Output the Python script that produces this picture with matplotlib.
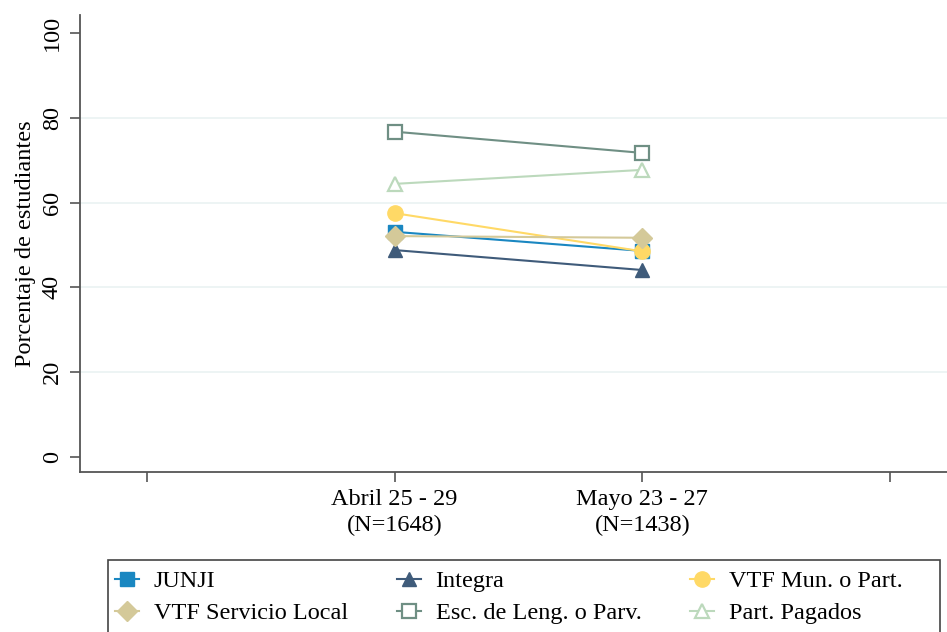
import matplotlib.pyplot as plt
from matplotlib.patches import Rectangle

plt.rcParams['font.family'] = ['Liberation Serif', 'DejaVu Serif']

# periods (x positions 1 and 2; 0 and 3 are empty ticks)
periodos = ['Abril 25 - 29\n(N=1648)', 'Mayo 23 - 27\n(N=1438)']
x_pos = [1, 2]

series = ['JUNJI', 'Integra', 'VTF Mun. o Part.',
          'VTF Servicio Local', 'Esc. de Leng. o Parv.', 'Part. Pagados']
junji = [53.1, 48.6]
integra = [48.8, 44.1]
vtf_mun = [57.5, 48.5]
vtf_local = [52.1, 51.7]
esc_leng = [76.7, 71.7]
part_pagados = [64.4, 67.7]

valores = [junji, integra, vtf_mun, vtf_local, esc_leng, part_pagados]
colores = ['#1a87c1', '#3f5b7a', '#ffd966', '#d4c999', '#6f8f84', '#bcd9bc']
marcadores = ['s', '^', 'o', 'D', 's', '^']
rellenos = [True, True, True, True, False, False]
tamanos = [10, 10, 11, 10.5, 10, 10]

fig = plt.figure(figsize=(9.47, 6.32), dpi=100)
ax = fig.add_axes([80 / 947, 1 - 472 / 632, 1 - 80 / 947, (472 - 15) / 632])

# light horizontal grid
for g in [20, 40, 60, 80]:
    ax.axhline(g, color='#eaf2f2', lw=1.2, zorder=0)

handles = []
for nombre, v, c, m, f, s in zip(series, valores, colores, marcadores, rellenos, tamanos):
    h, = ax.plot(x_pos, v, color=c, lw=1.5, marker=m, markersize=s,
                 markerfacecolor=c if f else 'white', markeredgecolor=c,
                 markeredgewidth=1.6 if not f else 1.0, label=nombre, zorder=3)
    handles.append(h)

ax.set_xlim(-0.27, 3.23)
ax.set_ylim(-3.5, 104.2)
ax.set_xticks([0, 1, 2, 3])
ax.set_xticklabels([''] + periodos + [''], fontsize=17.5, linespacing=1.25)
ax.set_yticks([0, 20, 40, 60, 80, 100])
ax.set_yticklabels(['0', '20', '40', '60', '80', '100'], fontsize=17.5,
                   rotation=90, va='center')
ax.set_ylabel('Porcentaje de estudiantes', fontsize=17.5, labelpad=4)

for s in ['top', 'right']:
    ax.spines[s].set_visible(False)
for s in ['left', 'bottom']:
    ax.spines[s].set_color('#555555')
    ax.spines[s].set_linewidth(1.3)
ax.tick_params(axis='both', direction='out', length=7.5, width=1.2, color='#555555', pad=5)

# legend box (runs off the bottom edge like the reference)
fig.patches.append(Rectangle((108 / 947, 1 - 645 / 632), 832 / 947, 85 / 632,
                             transform=fig.transFigure, facecolor='white',
                             edgecolor='#444444', linewidth=1.2, zorder=1))

# legend filled row by row like the reference (matplotlib fills by column)
orden = [0, 3, 1, 4, 2, 5]
leg = fig.legend(handles=[handles[i] for i in orden], loc='upper left', ncol=3,
                 bbox_to_anchor=(115 / 947, 1 - 570 / 632),
                 fontsize=17.5, frameon=False,
                 handlelength=1.0, handletextpad=0.6, columnspacing=2.0,
                 borderpad=0, borderaxespad=0, labelspacing=0.42)
leg.set_zorder(2)

fig.savefig('out.png', dpi=100)
